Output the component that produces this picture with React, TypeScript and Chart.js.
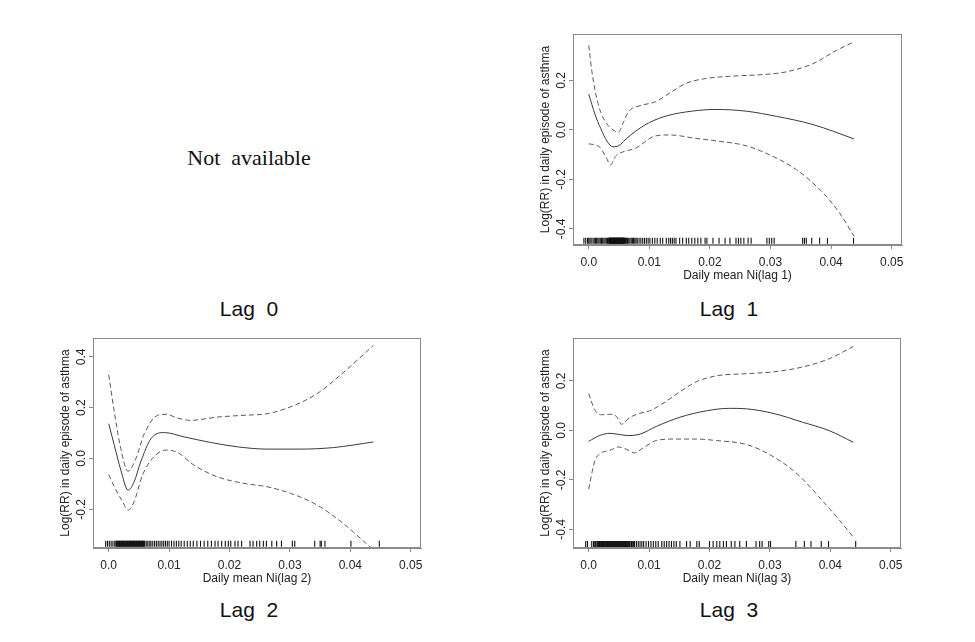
import React, { useEffect, useRef } from 'react';
import { Chart, registerables } from 'chart.js';

Chart.register(...registerables);

const SANS = '"Liberation Sans", Arial, Helvetica, sans-serif';
const SERIF = '"Liberation Serif", "Times New Roman", serif';
const BOX_COLOR = '#8a8a8a';
const FIT_COLOR = '#3a3a3a';
const BAND_COLOR = '#5a5a5a';
const TEXT_COLOR = '#222222';
const RUG_COLOR = '#111111';

const X_MIN = -0.0026;
const X_MAX = 0.0517;
const X_STEP = 0.01;
const Y_STEP = 0.2;

// ---------- Lag 1 ----------
const lag1FitX = [0, 0.001, 0.002, 0.003, 0.004, 0.005, 0.006, 0.008, 0.01, 0.013, 0.017, 0.021, 0.026, 0.031, 0.037, 0.0438];
const lag1FitY = [0.145, 0.065, 0.005, -0.045, -0.068, -0.063, -0.04, 0.0, 0.03, 0.058, 0.076, 0.083, 0.076, 0.055, 0.022, -0.036];
const lag1UpX = [0, 0.0005, 0.001, 0.0015, 0.002, 0.003, 0.004, 0.0049, 0.0057, 0.0066, 0.0083, 0.011, 0.0133, 0.016, 0.0193, 0.0232, 0.0287, 0.0326, 0.037, 0.0409, 0.0438];
const lag1UpY = [0.342, 0.24, 0.165, 0.11, 0.07, 0.025, 0.0, -0.009, 0.03, 0.075, 0.097, 0.114, 0.148, 0.188, 0.208, 0.217, 0.224, 0.235, 0.268, 0.322, 0.356];
const lag1LoX = [0, 0.0017, 0.0028, 0.0036, 0.0044, 0.0055, 0.0077, 0.011, 0.0133, 0.0177, 0.021, 0.026, 0.0298, 0.0343, 0.0387, 0.0414, 0.0438];
const lag1LoY = [-0.056, -0.067, -0.107, -0.141, -0.107, -0.09, -0.074, -0.024, -0.02, -0.034, -0.044, -0.064, -0.1, -0.161, -0.255, -0.336, -0.43];
const lag1Rug = [-0.0008, -0.0005, -0.0002, 0.0, 0.0002, 0.0004, 0.0007, 0.0009, 0.0011, 0.0013, 0.0015, 0.0017, 0.0019, 0.0021, 0.0023, 0.0025, 0.0027, 0.0029, 0.0031, 0.0032, 0.0033, 0.0034, 0.00345, 0.0035, 0.00355, 0.0036, 0.00365, 0.0037, 0.00375, 0.0038, 0.00385, 0.0039, 0.00395, 0.004, 0.00405, 0.0041, 0.00415, 0.0042, 0.00425, 0.0043, 0.00435, 0.0044, 0.00445, 0.0045, 0.00455, 0.0046, 0.00465, 0.0047, 0.00475, 0.0048, 0.00485, 0.0049, 0.00495, 0.005, 0.00505, 0.0051, 0.00515, 0.0052, 0.00525, 0.0053, 0.00535, 0.0054, 0.00545, 0.0055, 0.00555, 0.0056, 0.00565, 0.0057, 0.00575, 0.0058, 0.0059, 0.006, 0.0061, 0.0062, 0.0064, 0.0066, 0.0068, 0.007, 0.0072, 0.0074, 0.0076, 0.0078, 0.008, 0.0083, 0.0086, 0.0089, 0.0092, 0.0095, 0.0098, 0.0101, 0.0105, 0.0109, 0.0113, 0.0118, 0.0122, 0.0128, 0.0132, 0.0135, 0.0138, 0.0141, 0.0144, 0.015, 0.0155, 0.0161, 0.0165, 0.017, 0.0175, 0.018, 0.0185, 0.0192, 0.0195, 0.0205, 0.0215, 0.0225, 0.0233, 0.0243, 0.0247, 0.0251, 0.0256, 0.0263, 0.0268, 0.0294, 0.0298, 0.0302, 0.0306, 0.0353, 0.0356, 0.0359, 0.0368, 0.0381, 0.0394, 0.0437];
const lag1RugY = -0.448;
const lag1YMin = -0.465;
const lag1YMax = 0.388;

// ---------- Lag 2 ----------
const lag2FitX = [0, 0.00093, 0.002, 0.0032, 0.0042, 0.0053, 0.007, 0.0092, 0.0125, 0.0169, 0.0213, 0.0262, 0.0317, 0.0372, 0.0438];
const lag2FitY = [0.137, 0.052, -0.045, -0.124, -0.092, -0.013, 0.078, 0.102, 0.085, 0.063, 0.046, 0.037, 0.037, 0.043, 0.065];
const lag2UpX = [0, 0.00093, 0.002, 0.0032, 0.0045, 0.0059, 0.0081, 0.0095, 0.0114, 0.0136, 0.018, 0.0224, 0.0262, 0.0301, 0.0345, 0.0383, 0.0438];
const lag2UpY = [0.329, 0.183, 0.039, -0.05, 0.0, 0.098, 0.17, 0.174, 0.159, 0.15, 0.163, 0.17, 0.176, 0.203, 0.255, 0.327, 0.444];
const lag2LoX = [0, 0.00093, 0.0023, 0.0032, 0.0042, 0.0056, 0.0075, 0.0095, 0.0114, 0.0141, 0.018, 0.0224, 0.0262, 0.0301, 0.0345, 0.0388, 0.0435];
const lag2LoY = [-0.063, -0.111, -0.17, -0.203, -0.17, -0.065, 0.007, 0.033, 0.024, -0.026, -0.072, -0.098, -0.111, -0.137, -0.183, -0.255, -0.353];
const lag2Rug = [-0.0005, -0.0002, 0.0001, 0.0004, 0.0007, 0.001, 0.0012, 0.0013, 0.0014, 0.0015, 0.0016, 0.0017, 0.0018, 0.0019, 0.002, 0.0021, 0.0022, 0.0023, 0.0024, 0.0025, 0.0026, 0.0027, 0.0028, 0.0029, 0.003, 0.0031, 0.0032, 0.0033, 0.0034, 0.0035, 0.0036, 0.0037, 0.0038, 0.0039, 0.004, 0.0041, 0.0042, 0.0043, 0.0044, 0.0045, 0.0046, 0.0047, 0.0048, 0.0049, 0.005, 0.0051, 0.0052, 0.0053, 0.0054, 0.0055, 0.0056, 0.0057, 0.0058, 0.0059, 0.006, 0.0063, 0.0065, 0.0068, 0.007, 0.0073, 0.0076, 0.0079, 0.0082, 0.0085, 0.0088, 0.0091, 0.0094, 0.0097, 0.01, 0.0104, 0.0108, 0.0112, 0.0116, 0.012, 0.0125, 0.013, 0.0135, 0.014, 0.0146, 0.0152, 0.0158, 0.0164, 0.017, 0.0176, 0.0181, 0.0187, 0.0193, 0.0198, 0.0202, 0.0209, 0.0214, 0.022, 0.0234, 0.0239, 0.0245, 0.025, 0.0256, 0.0261, 0.027, 0.0278, 0.0286, 0.0304, 0.0308, 0.0341, 0.035, 0.0352, 0.0358, 0.0401, 0.0448];
const lag2RugY = -0.335;
const lag2YMin = -0.352;
const lag2YMax = 0.474;

// ---------- Lag 3 ----------
const lag3FitX = [0, 0.0019, 0.0035, 0.0052, 0.0065, 0.0085, 0.0112, 0.0151, 0.0195, 0.0233, 0.0261, 0.0305, 0.0354, 0.0398, 0.0438];
const lag3FitY = [-0.044, -0.02, -0.012, -0.017, -0.021, -0.015, 0.016, 0.053, 0.079, 0.089, 0.087, 0.069, 0.033, -0.001, -0.048];
const lag3UpX = [0, 0.001, 0.0021, 0.0035, 0.0046, 0.0054, 0.0068, 0.0085, 0.0101, 0.0123, 0.0151, 0.0178, 0.0211, 0.0261, 0.0305, 0.0354, 0.0398, 0.0438];
const lag3UpY = [0.149, 0.083, 0.063, 0.065, 0.056, 0.025, 0.052, 0.069, 0.079, 0.109, 0.156, 0.196, 0.22, 0.229, 0.236, 0.256, 0.289, 0.339];
const lag3LoX = [0, 0.001, 0.0021, 0.0035, 0.0049, 0.0063, 0.0076, 0.009, 0.0112, 0.014, 0.0178, 0.0211, 0.0261, 0.0299, 0.0343, 0.0387, 0.042, 0.0438];
const lag3LoY = [-0.237, -0.124, -0.091, -0.081, -0.067, -0.077, -0.091, -0.071, -0.041, -0.035, -0.035, -0.041, -0.057, -0.097, -0.171, -0.284, -0.377, -0.431];
const lag3Rug = [-0.0005, -0.0002, 0.0005, 0.0008, 0.0009, 0.0011, 0.0012, 0.0014, 0.0015, 0.0016, 0.0017, 0.0018, 0.0019, 0.002, 0.0021, 0.0022, 0.0023, 0.0024, 0.0025, 0.0026, 0.0027, 0.0028, 0.0029, 0.003, 0.0031, 0.0032, 0.0033, 0.0034, 0.0035, 0.0036, 0.0037, 0.0038, 0.0039, 0.004, 0.0041, 0.0042, 0.0043, 0.0044, 0.0045, 0.0046, 0.0047, 0.0048, 0.0049, 0.005, 0.0051, 0.0052, 0.0053, 0.0054, 0.0055, 0.0056, 0.0057, 0.0058, 0.0059, 0.006, 0.0061, 0.0062, 0.0063, 0.0064, 0.0066, 0.0067, 0.0068, 0.007, 0.0071, 0.0072, 0.0074, 0.0076, 0.0079, 0.0082, 0.0085, 0.0088, 0.0091, 0.0095, 0.0099, 0.0103, 0.0107, 0.0111, 0.0115, 0.0121, 0.0125, 0.0129, 0.0133, 0.0137, 0.0141, 0.0145, 0.0151, 0.0162, 0.0168, 0.0179, 0.0183, 0.02, 0.0206, 0.0212, 0.0217, 0.0223, 0.0228, 0.0236, 0.0242, 0.025, 0.0261, 0.0277, 0.0283, 0.0287, 0.0298, 0.0301, 0.0343, 0.0357, 0.0368, 0.0385, 0.0397, 0.0442];
const lag3RugY = -0.459;
const lag3YMin = -0.475;
const lag3YMax = 0.373;

const Y_TITLE = 'Log(RR) in daily episode of asthma';

const zip = (xs: number[], ys: number[]) => xs.map((x, i) => ({ x, y: ys[i] }));

const decorPlugin = {
  id: 'panelDecor',
  afterDraw(chart: any) {
    const { ctx, chartArea: a, scales } = chart;
    const ys = scales.y;
    ctx.save();
    ctx.strokeStyle = BOX_COLOR;
    ctx.lineWidth = 1;
    const l = Math.round(a.left) + 0.5;
    const t = Math.round(a.top) + 0.5;
    const r = Math.round(a.right) - 0.5;
    const b = Math.round(a.bottom) - 0.5;
    ctx.strokeRect(l, t, r - l, b - t);
    ctx.font = '12px ' + SANS;
    ctx.fillStyle = TEXT_COLOR;
    ctx.textAlign = 'center';
    ctx.textBaseline = 'middle';
    ys.ticks.forEach((tk: any) => {
      const py = ys.getPixelForValue(tk.value);
      ctx.save();
      ctx.translate(a.left - 11, py);
      ctx.rotate(-Math.PI / 2);
      ctx.fillText(Number(tk.value).toFixed(1), 0, 0);
      ctx.restore();
    });
    ctx.restore();
  },
};

type PanelProps = {
  fitX: number[]; fitY: number[];
  upX: number[]; upY: number[];
  loX: number[]; loY: number[];
  rug: number[]; rugY: number;
  yMin: number; yMax: number;
  xTitle: string;
  left: number; top: number; width: number; height: number;
};

function Panel(p: PanelProps) {
  const ref = useRef<HTMLCanvasElement>(null);
  useEffect(() => {
    const curve = (data: any, color: string, dash: number[]) => ({
      data,
      showLine: true,
      borderColor: color,
      borderWidth: 1,
      borderDash: dash,
      pointRadius: 0,
      pointHoverRadius: 0,
      cubicInterpolationMode: 'monotone',
      fill: false,
    });
    const chart = new Chart(ref.current as HTMLCanvasElement, {
      type: 'scatter',
      data: {
        datasets: [
          {
            data: p.rug.map((x) => ({ x, y: p.rugY })),
            showLine: false,
            pointStyle: 'line',
            pointRotation: 90,
            rotation: 90,
            pointRadius: 3,
            radius: 3,
            pointBorderColor: RUG_COLOR,
            borderColor: RUG_COLOR,
            pointBorderWidth: 1.1,
            borderWidth: 1.1,
          } as any,
          curve(zip(p.upX, p.upY), BAND_COLOR, [5, 3]) as any,
          curve(zip(p.loX, p.loY), BAND_COLOR, [5, 3]) as any,
          curve(zip(p.fitX, p.fitY), FIT_COLOR, []) as any,
        ],
      },
      options: {
        responsive: false,
        animation: false,
        devicePixelRatio: 1,
        events: [],
        layout: { padding: { top: 10, right: 10, left: 0, bottom: 0 } },
        plugins: { legend: { display: false }, tooltip: { enabled: false } },
        scales: {
          x: {
            type: 'linear',
            min: X_MIN,
            max: X_MAX,
            afterFit: (s: any) => { s.height = 40; },
            grid: { drawOnChartArea: false, drawTicks: true, tickLength: 4, color: BOX_COLOR },
            border: { display: true, color: BOX_COLOR },
            ticks: {
              stepSize: X_STEP,
              includeBounds: false,
              padding: 6,
              color: TEXT_COLOR,
              font: { family: SANS, size: 12 },
              maxRotation: 0,
              autoSkip: false,
              callback: (v: any) => (Math.abs(Number(v)) < 1e-9 ? '0.0' : Number(v).toFixed(2)),
            },
            title: {
              display: true,
              text: p.xTitle,
              color: TEXT_COLOR,
              font: { family: SANS, size: 12 },
              padding: { top: 0, bottom: 2 },
            },
          },
          y: {
            type: 'linear',
            min: p.yMin,
            max: p.yMax,
            afterFit: (s: any) => { s.width = 45; },
            grid: { drawOnChartArea: false, drawTicks: true, tickLength: 4, color: BOX_COLOR },
            border: { display: true, color: BOX_COLOR },
            ticks: { stepSize: Y_STEP, includeBounds: false, display: false },
            title: {
              display: true,
              text: Y_TITLE,
              color: TEXT_COLOR,
              font: { family: SANS, size: 12 },
              padding: { top: 10, bottom: 0 },
            },
          },
        },
      } as any,
      plugins: [decorPlugin],
    });
    return () => chart.destroy();
  }, []);
  return (
    <canvas
      ref={ref}
      width={p.width}
      height={p.height}
      style={{ position: 'absolute', left: p.left, top: p.top, width: p.width, height: p.height }}
    />
  );
}

const lagLabelStyle = (left: number, top: number): React.CSSProperties => ({
  position: 'absolute',
  left,
  top,
  width: 200,
  textAlign: 'center',
  fontFamily: SANS,
  fontSize: 21,
  lineHeight: '21px',
  color: '#111',
  whiteSpace: 'pre',
});

export default function App() {
  return (
    <div style={{ position: 'fixed', left: 0, top: 0, width: 975, height: 642, background: '#fff', overflow: 'hidden' }}>
      <div
        style={{
          position: 'absolute', left: 99, top: 147, width: 300, textAlign: 'center',
          fontFamily: SERIF, fontSize: 22, lineHeight: '22px', color: '#111', whiteSpace: 'pre',
        }}
      >
        {'Not  available'}
      </div>
      <div style={lagLabelStyle(149, 298)}>{'Lag  0'}</div>
      <div style={lagLabelStyle(629, 298)}>{'Lag  1'}</div>
      <div style={lagLabelStyle(149, 599)}>{'Lag  2'}</div>
      <div style={lagLabelStyle(629, 599)}>{'Lag  3'}</div>
      <Panel
        fitX={lag1FitX} fitY={lag1FitY} upX={lag1UpX} upY={lag1UpY} loX={lag1LoX} loY={lag1LoY}
        rug={lag1Rug} rugY={lag1RugY} yMin={lag1YMin} yMax={lag1YMax}
        xTitle="Daily mean Ni(lag 1)" left={528} top={24} width={384} height={261}
      />
      <Panel
        fitX={lag2FitX} fitY={lag2FitY} upX={lag2UpX} upY={lag2UpY} loX={lag2LoX} loY={lag2LoY}
        rug={lag2Rug} rugY={lag2RugY} yMin={lag2YMin} yMax={lag2YMax}
        xTitle="Daily mean Ni(lag 2)" left={48} top={328} width={383} height={260}
      />
      <Panel
        fitX={lag3FitX} fitY={lag3FitY} upX={lag3UpX} upY={lag3UpY} loX={lag3LoX} loY={lag3LoY}
        rug={lag3Rug} rugY={lag3RugY} yMin={lag3YMin} yMax={lag3YMax}
        xTitle="Daily mean Ni(lag 3)" left={528} top={328} width={383} height={260}
      />
    </div>
  );
}
